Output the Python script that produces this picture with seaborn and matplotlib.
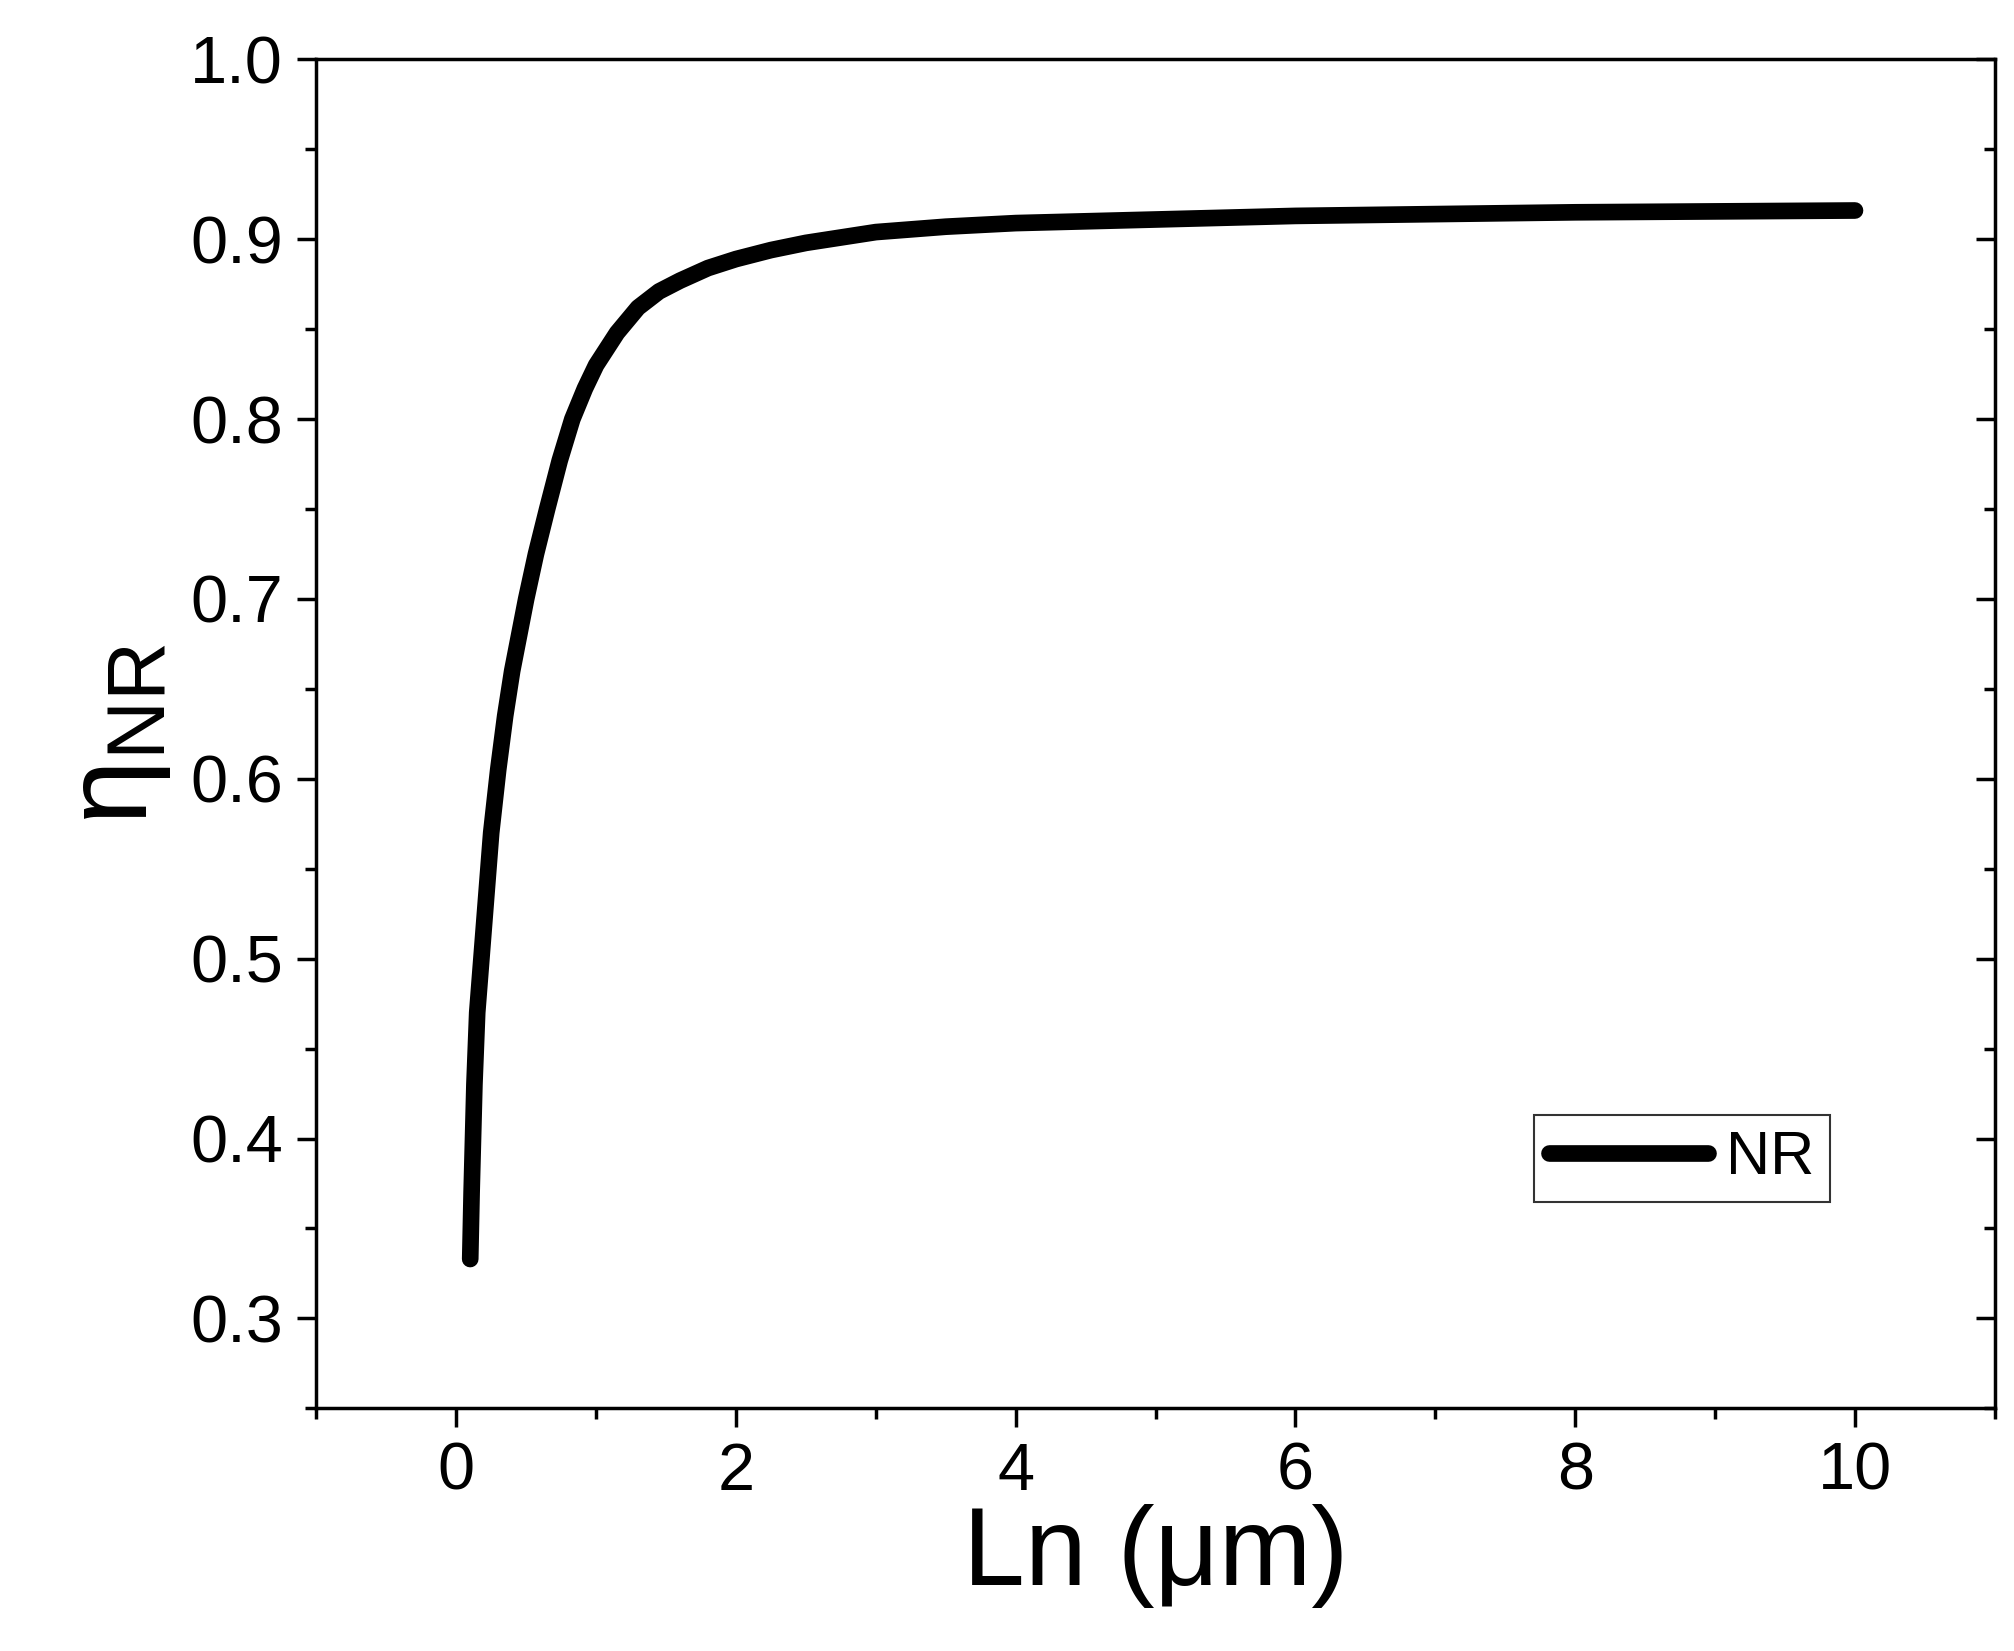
import numpy as np
import pandas as pd
import matplotlib
matplotlib.use('Agg')
import matplotlib.pyplot as plt
import seaborn as sns
from matplotlib.ticker import MultipleLocator

# values
ln_um = [0.1, 0.11, 0.13, 0.15, 0.17, 0.19, 0.22, 0.25, 0.3, 0.35, 0.4, 0.45, 0.5, 0.57, 0.65,
         0.74, 0.83, 0.92, 1.0, 1.15, 1.3, 1.45, 1.6, 1.8, 2.0, 2.25, 2.5, 2.75, 3.0, 3.5,
         4.0, 5.0, 6.0, 7.0, 8.0, 9.0, 10.0]
eta_nr = [0.333, 0.37, 0.43, 0.47, 0.49, 0.51, 0.54, 0.57, 0.605, 0.635, 0.66, 0.68, 0.70,
          0.725, 0.75, 0.777, 0.80, 0.817, 0.83, 0.848, 0.862, 0.871, 0.877, 0.884, 0.889,
          0.894, 0.898, 0.901, 0.904, 0.907, 0.909, 0.911, 0.913, 0.914, 0.915, 0.9155, 0.916]

sns.set_style('ticks')
plt.rcParams['font.family'] = ['Liberation Sans', 'DejaVu Sans']
plt.rcParams['mathtext.fontset'] = 'custom'
plt.rcParams['mathtext.rm'] = 'Liberation Sans'
plt.rcParams['mathtext.it'] = 'Liberation Sans'
plt.rcParams['text.color'] = 'black'
plt.rcParams['axes.labelcolor'] = 'black'
plt.rcParams['xtick.color'] = 'black'
plt.rcParams['ytick.color'] = 'black'
plt.rcParams['axes.edgecolor'] = 'black'

df = pd.DataFrame({'Ln': ln_um, 'eta': eta_nr})

fig = plt.figure(figsize=(20.15, 16.51), dpi=100)
ax = fig.add_axes([0.157, 0.147, 0.833, 0.817])
sns.lineplot(data=df, x='Ln', y='eta', ax=ax, color='black', lw=12, label='NR',
             solid_capstyle='round', solid_joinstyle='round')

ax.set_xlim(-1, 11)
ax.set_ylim(0.25, 1.0)
ax.xaxis.set_major_locator(MultipleLocator(2))
ax.xaxis.set_minor_locator(MultipleLocator(1))
ax.yaxis.set_major_locator(MultipleLocator(0.1))
ax.yaxis.set_minor_locator(MultipleLocator(0.05))
ax.yaxis.set_major_formatter(matplotlib.ticker.FormatStrFormatter('%.1f'))
ax.tick_params(which='both', direction='out', width=2.5, labelsize=48, pad=10)
ax.tick_params(which='major', length=14)
ax.tick_params(which='minor', length=8)
ax2 = ax.secondary_yaxis('right')
ax2.yaxis.set_major_locator(MultipleLocator(0.1))
ax2.yaxis.set_minor_locator(MultipleLocator(0.05))
ax2.tick_params(which='both', direction='in', width=2.5, labelright=False)
ax2.tick_params(which='major', length=14)
ax2.tick_params(which='minor', length=8)
for s in ax.spines.values():
    s.set_linewidth(2.5)

ax.set_xlabel('Ln (\u03bcm)', fontsize=80, labelpad=0)
ax.set_ylabel(r'$\mathrm{\eta_{NR}}$', fontsize=84, labelpad=12)

leg = ax.legend(loc='lower right', bbox_to_anchor=(0.92, 0.13), fontsize=44,
                fancybox=False, edgecolor='black', handlelength=2.6, borderpad=0.25,
                handletextpad=0.3)
leg.get_frame().set_linewidth(1.5)

fig.savefig('out.png', dpi=100)
